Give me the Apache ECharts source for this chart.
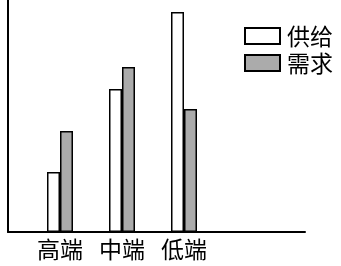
<!DOCTYPE html>
<html><head><meta charset="utf-8">
<script src="https://cdn.jsdelivr.net/npm/echarts@6/dist/echarts.min.js"></script>
<style>html,body{margin:0;padding:0;background:#fff}#c{width:341px;height:266px}</style>
</head><body><div id="c"></div>
<script>
var categories = ['高端', '中端', '低端'];
var supply = [60, 143, 220];
var demand = [101, 165, 123];
var seriesNames = ['供给', '需求'];

var chart = echarts.init(document.getElementById('c'), null, {renderer: 'canvas'});
var font = '"Noto Sans CJK SC", sans-serif';
var legendText = {fontSize: 23, color: '#000', fontFamily: font, lineHeight: 26, padding: [0, 0, 0, 2]};
chart.setOption({
  animation: false,
  backgroundColor: '#fff',
  textStyle: {fontFamily: font},
  legend: [{
    orient: 'vertical', left: 244, top: 23, padding: 0,
    icon: 'rect',
    itemWidth: 35, itemHeight: 16, itemGap: 1,
    textStyle: legendText,
    data: seriesNames.map(function (n) { return {name: n, textStyle: legendText}; })
  }],
  grid: [
    {left: 29, width: 186, top: 0, bottom: 34},
    {left: 8, right: 36, top: 0, bottom: 34}
  ],
  xAxis: [
    {type: 'category', gridIndex: 0, data: categories,
     axisLine: {show: false}, axisTick: {show: false},
     axisLabel: {fontSize: 23, color: '#000', fontFamily: font, margin: 6}},
    {type: 'value', gridIndex: 1, min: 0, max: 1,
     axisLine: {show: true, lineStyle: {color: '#000', width: 2}},
     axisTick: {show: false}, axisLabel: {show: false}, splitLine: {show: false}}
  ],
  yAxis: [
    {type: 'value', gridIndex: 0, min: 0, max: 232,
     axisLine: {show: false}, axisTick: {show: false}, axisLabel: {show: false}, splitLine: {show: false}},
    {type: 'value', gridIndex: 1, min: 0, max: 1,
     axisLine: {show: true, lineStyle: {color: '#000', width: 2}},
     axisTick: {show: false}, axisLabel: {show: false}, splitLine: {show: false}}
  ],
  series: [
    {name: seriesNames[0], type: 'bar', xAxisIndex: 0, yAxisIndex: 0, data: supply,
     barWidth: 13, barGap: '0%',
     itemStyle: {color: '#fff', borderColor: '#000', borderWidth: 1.5}},
    {name: seriesNames[1], type: 'bar', xAxisIndex: 0, yAxisIndex: 0, data: demand,
     barWidth: 13, barGap: '0%',
     itemStyle: {color: '#ababab', borderColor: '#000', borderWidth: 1.5}}
  ]
});
</script></body></html>
